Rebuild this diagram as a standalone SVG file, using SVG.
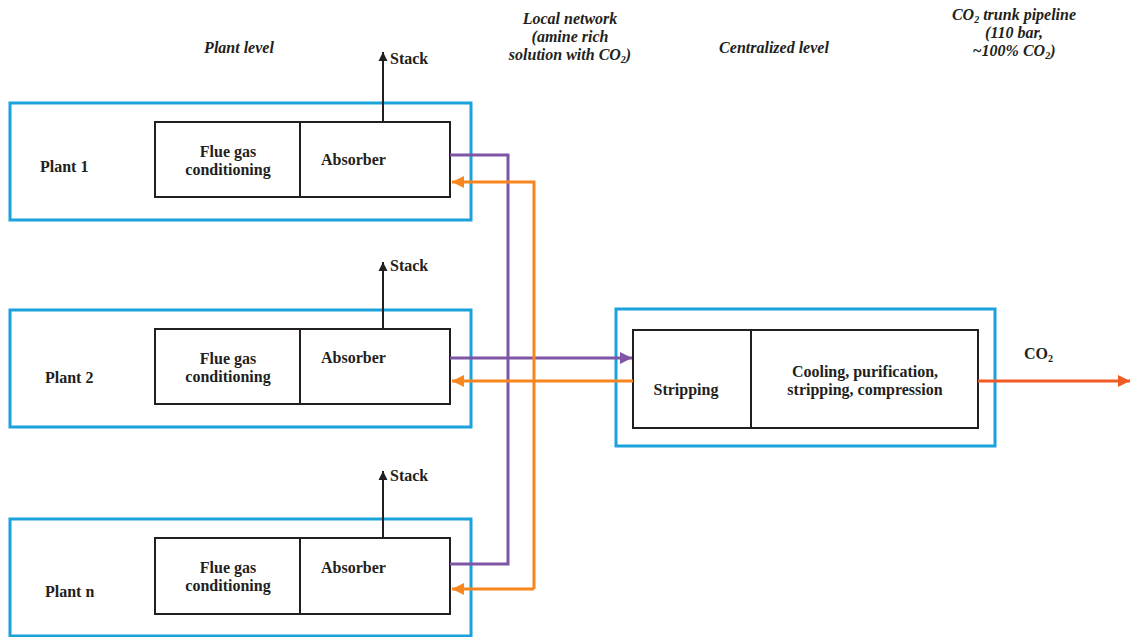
<svg xmlns="http://www.w3.org/2000/svg" width="1130" height="637" viewBox="0 0 1130 637">
<style>
.outer{fill:none;stroke:#1ba1db;stroke-width:3}
.inner{fill:#fff;stroke:#231f20;stroke-width:2}
.div{stroke:#231f20;stroke-width:2}
text{font-family:'Liberation Serif','Times New Roman','DejaVu Serif',serif;fill:#231f20;font-weight:bold}
.t{font-size:16px}
.h{font-style:italic;font-size:16px}
.c{text-anchor:middle}
.stk{stroke:#231f20;stroke-width:2;fill:none}
.pur{stroke:#7f55a5;stroke-width:3;fill:none}
.org{stroke:#f7861f;stroke-width:3;fill:none}
.red{stroke:#f15a24;stroke-width:3;fill:none}
</style>
<defs>
<marker id="aK" viewBox="0 0 10 10" refX="10" refY="5" markerWidth="9" markerHeight="10" orient="auto" markerUnits="userSpaceOnUse"><path d="M0,0L10,5L0,10z" fill="#231f20"/></marker>
<marker id="aP" viewBox="0 0 10 10" refX="10" refY="5" markerWidth="4" markerHeight="4" orient="auto"><path d="M0,0L10,5L0,10z" fill="#7f55a5"/></marker>
<marker id="aO" viewBox="0 0 10 10" refX="10" refY="5" markerWidth="4" markerHeight="4" orient="auto"><path d="M0,0L10,5L0,10z" fill="#f7861f"/></marker>
<marker id="aR" viewBox="0 0 10 10" refX="10" refY="5" markerWidth="4" markerHeight="4" orient="auto"><path d="M0,0L10,5L0,10z" fill="#f15a24"/></marker>
</defs>
<rect width="1130" height="637" fill="#fff"/>

<g id="headers">
<text class="h c" x="239" y="53">Plant level</text>
<text class="h c" x="570" y="24">Local network</text>
<text class="h c" x="570" y="42">(amine rich</text>
<text class="h c" x="570" y="60">solution with CO<tspan font-size="10" dy="3">2</tspan><tspan dy="-3">)</tspan></text>
<text class="h c" x="774" y="53">Centralized level</text>
<text class="h c" x="1014" y="20">CO<tspan font-size="10" dy="3">2</tspan><tspan dy="-3"> trunk pipeline</tspan></text>
<text class="h c" x="1014" y="38">(110 bar,</text>
<text class="h c" x="1014" y="56">~100% CO<tspan font-size="10" dy="3">2</tspan><tspan dy="-3">)</tspan></text>
</g>

<g id="plant1">
<rect class="outer" x="10" y="103" width="461" height="117"/>
<rect class="inner" x="155" y="122" width="295" height="75"/>
<line class="div" x1="300" y1="122" x2="300" y2="197"/>
<text class="t" x="40" y="172">Plant 1</text>
<text class="t c" x="228" y="157">Flue gas</text>
<text class="t c" x="228" y="175">conditioning</text>
<text class="t" x="321" y="165">Absorber</text>
</g>

<g id="plant2">
<rect class="outer" x="10" y="310" width="461" height="117"/>
<rect class="inner" x="155" y="329" width="295" height="75"/>
<line class="div" x1="300" y1="329" x2="300" y2="404"/>
<text class="t" x="45" y="383">Plant 2</text>
<text class="t c" x="228" y="364">Flue gas</text>
<text class="t c" x="228" y="382">conditioning</text>
<text class="t" x="321" y="363">Absorber</text>
</g>

<g id="plantn">
<rect class="outer" x="10" y="519" width="461" height="117"/>
<rect class="inner" x="155" y="538" width="295" height="76"/>
<line class="div" x1="300" y1="538" x2="300" y2="614"/>
<text class="t" x="45" y="597">Plant n</text>
<text class="t c" x="228" y="573">Flue gas</text>
<text class="t c" x="228" y="591">conditioning</text>
<text class="t" x="321" y="573">Absorber</text>
</g>

<g id="central">
<rect class="outer" x="616" y="309" width="379" height="137"/>
<rect class="inner" x="633" y="330" width="345" height="98"/>
<line class="div" x1="751" y1="330" x2="751" y2="428"/>
<text class="t c" x="686" y="395">Stripping</text>
<text class="t c" x="865" y="377">Cooling, purification,</text>
<text class="t c" x="865" y="395">stripping, compression</text>
</g>

<g id="connectors">
<line class="stk" x1="383" y1="122" x2="383" y2="52" marker-end="url(#aK)"/>
<text class="t" x="390" y="64">Stack</text>
<line class="stk" x1="383" y1="329" x2="383" y2="262" marker-end="url(#aK)"/>
<text class="t" x="390" y="271">Stack</text>
<line class="stk" x1="383" y1="538" x2="383" y2="471" marker-end="url(#aK)"/>
<text class="t" x="390" y="481">Stack</text>

<polyline class="pur" points="450,155 508,155 508,564 450,564"/>
<line class="pur" x1="450" y1="358" x2="632" y2="358" marker-end="url(#aP)"/>
<polyline class="org" points="534,589 534,182 452,182" marker-end="url(#aO)"/>
<line class="org" x1="534" y1="589" x2="452" y2="589" marker-end="url(#aO)"/>
<line class="org" x1="633" y1="381" x2="452" y2="381" marker-end="url(#aO)"/>

<line class="red" x1="978" y1="381" x2="1130" y2="381" marker-end="url(#aR)"/>
<text class="t" x="1024" y="359">CO<tspan font-size="10" dy="3">2</tspan></text>
</g>
</svg>
